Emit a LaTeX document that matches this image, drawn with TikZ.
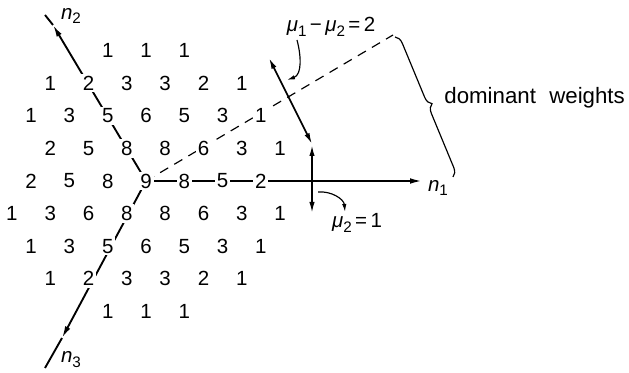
\documentclass[tikz,border=0pt]{standalone}
\usepackage{fontspec}
\setmainfont{Liberation Sans}
\usepackage{tikz}
\usetikzlibrary{arrows.meta, positioning, backgrounds, decorations.pathreplacing}

\newcommand{\sublab}[2]{\textit{#1}\raisebox{-0.45ex}{\fontsize{13}{15}\selectfont #2}}

\begin{document}
\begin{tikzpicture}[x=0.03cm, y=0.03cm, font=\fontsize{17.5}{21}\selectfont]
    \tikzstyle{wt} = [fill=white, inner sep=1.6pt]
    \tikzstyle{axis} = [draw, line width=1.6pt, -{Latex[length=3.6mm, width=1.7mm]}]
    \tikzstyle{axisend} = [draw, line width=1.6pt]
    \tikzstyle{dbl} = [draw, line width=1.4pt, {Latex[length=3.3mm, width=1.6mm]}-{Latex[length=3.3mm, width=1.6mm]}]
    \tikzstyle{curv} = [draw, line width=1pt, -{Latex[length=2.4mm, width=1.3mm]}]
    \tikzstyle{lbl} = [inner sep=1pt]

    \useasboundingbox (0,0) rectangle (629,373);

    % weight multiplicities, row by row from the top
    \foreach \r/\k/\vals in {1/-1/{1,1,1}, 2/-2.5/{1,2,3,3,2,1}, 3/-3/{1,3,5,6,5,3,1},
                            4/-2.5/{2,5,8,8,6,3,1}, 5/-3/{2,5,8,9,8,5,2}, 6/-3.5/{1,3,6,8,8,6,3,1},
                            7/-3/{1,3,5,6,5,3,1}, 8/-2.5/{1,2,3,3,2,1}, 9/-1/{1,1,1}} {
        \foreach \v [count=\i] in \vals
            \node [wt] (w\r-\i) at ({146+38.3*(\k+\i-1)}, {192+32.6*(5-\r)}) {\v};
    }

    \coordinate (n1tip) at (422,192);
    \coordinate (n2head) at (53,348);
    \coordinate (n2end) at (45,358);
    \coordinate (n3head) at (62,35);
    \coordinate (n3end) at (45,5);
    \coordinate (dashend) at (393,338);

    \begin{scope}[on background layer]
        \path [axis] (w5-4.center) -- (n1tip);
        \path [axis] (w5-4.center) -- (n2head);
        \path [axisend] (n2head) -- (n2end);
        \path [axis] (w5-4.center) -- (n3head);
        \path [axisend] (n3head) -- (n3end);
        \draw [line width=1pt, dash pattern=on 8pt off 6pt] (w5-4.center) -- (dashend);
    \end{scope}

    \node [lbl] (n1) at (438,185) {\sublab{n}{1}};
    \node [lbl] (n2) at (71,357) {\sublab{n}{2}};
    \node [lbl] (n3) at (71,13) {\sublab{n}{3}};
    \node [lbl] (mu12) at (331,346) {\sublab{μ}{1}\,−\,\sublab{μ}{2}\,=\,2};
    \node [lbl] (mu2) at (357,150) {\sublab{μ}{2}\,=\,1};
    \node [lbl, anchor=west, font=\fontsize{19}{22}\selectfont] (dom) at (443,275) {dominant\hspace{0.6em}weights};

    % the two root directions
    \coordinate (dgtop) at (269,315);
    \coordinate (dgbot) at (312,229);
    \coordinate (vtop) at (312,228);
    \coordinate (vbot) at (312,160);
    \path [dbl] (dgtop) -- (dgbot);
    \path [dbl] (vtop) -- (vbot);

    \coordinate (c1s) at (297,333);
    \coordinate (c1e) at (287,293);
    \path [curv] (c1s) to [out=-75, in=20] (c1e);
    \coordinate (c2s) at (318,181);
    \coordinate (c2e) at (345,161);
    \path [curv] (c2s) to [out=5, in=95] (c2e);

    \coordinate (brtop) at (395,336);
    \coordinate (brbot) at (453,196);
    \draw [line width=1pt, decorate, decoration={brace, amplitude=2.6mm}] (brtop) -- (brbot);
\end{tikzpicture}
\end{document}
